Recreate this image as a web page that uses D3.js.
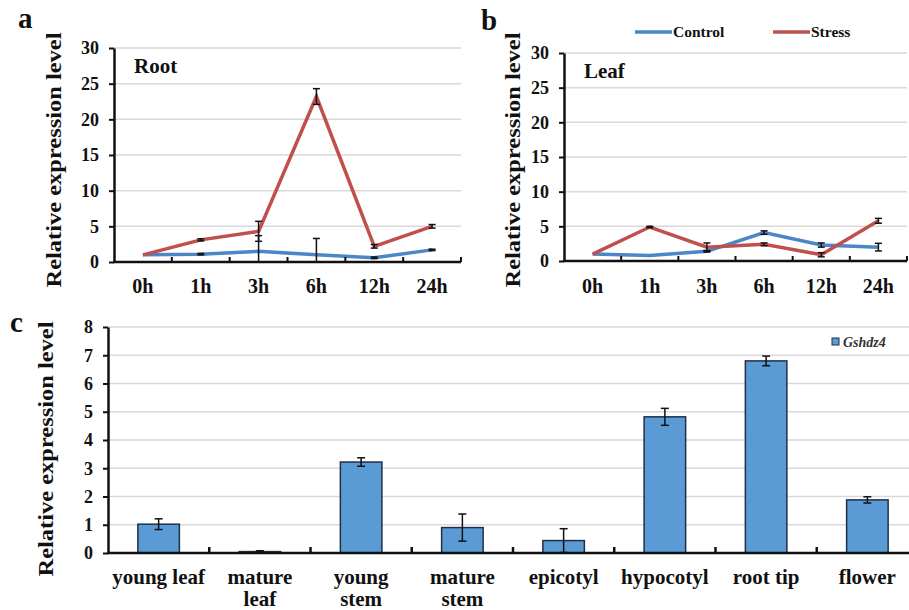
<!DOCTYPE html>
<html>
<head>
<meta charset="utf-8">
<script src="https://cdn.jsdelivr.net/npm/d3@7"></script>
<style>
  body { margin: 0; background: #fff; }
  svg { display: block; }
</style>
</head>
<body>
<svg id="fig" width="909" height="610"></svg>
<script>
// time course data (panels a and b)
var timeLabels = ["0h", "1h", "3h", "6h", "12h", "24h"];
var rootControl = [1.0, 1.1, 1.5, 1.0, 0.6, 1.7];
var rootControlErr = [0, 0.1, 2.2, 2.3, 0.1, 0.1];
var rootStress = [1.0, 3.1, 4.3, 23.2, 2.2, 5.0];
var rootStressErr = [0, 0.15, 1.4, 1.1, 0.25, 0.25];
var leafControl = [1.0, 0.8, 1.4, 4.1, 2.3, 2.0];
var leafControlErr = [0, 0, 0.1, 0.25, 0.3, 0.55];
var leafStress = [1.0, 4.9, 2.0, 2.4, 0.9, 5.8];
var leafStressErr = [0, 0.1, 0.6, 0.2, 0.3, 0.35];
var timeTicks = [0, 5, 10, 15, 20, 25, 30];

// tissue data (panel c)
var tissues = [["young leaf"], ["mature", "leaf"], ["young", "stem"], ["mature", "stem"],
  ["epicotyl"], ["hypocotyl"], ["root tip"], ["flower"]];
var gshdz4 = [1.02, 0.05, 3.22, 0.9, 0.44, 4.82, 6.8, 1.88];
var gshdz4Err = [0.19, 0.03, 0.15, 0.48, 0.42, 0.3, 0.17, 0.11];
var tissueTicks = [0, 1, 2, 3, 4, 5, 6, 7, 8];

var blue = "#4a86c8", red = "#c0504d", grid = "#d9d9d9";
var serif = "Liberation Serif";
var svg = d3.select("#fig").attr("font-family", serif).attr("font-weight", "bold");

function txt(parent) {
  return parent.append("text").attr("font-family", serif).attr("font-weight", "bold").attr("fill", "#111");
}

function yTitle(cx, cy) {
  txt(svg)
    .attr("transform", "translate(" + cx + "," + cy + ") rotate(-90)")
    .attr("text-anchor", "middle")
    .attr("dy", "0.35em")
    .attr("textLength", 255)
    .attr("lengthAdjust", "spacingAndGlyphs")
    .attr("font-size", 22)
    .text("Relative expression level");
}

function errBars(g, x, y, vals, errs, cap) {
  vals.forEach(function (v, i) {
    if (!errs[i]) return;
    var lo = Math.max(0, v - errs[i]), hi = v + errs[i];
    var cx = x(i);
    g.append("line").attr("x1", cx).attr("x2", cx).attr("y1", y(lo)).attr("y2", y(hi))
      .attr("stroke", "#111").attr("stroke-width", 1.5);
    g.append("line").attr("x1", cx - cap).attr("x2", cx + cap).attr("y1", y(hi)).attr("y2", y(hi))
      .attr("stroke", "#111").attr("stroke-width", 1.5);
    if (v - errs[i] > 0) {
      g.append("line").attr("x1", cx - cap).attr("x2", cx + cap).attr("y1", y(lo)).attr("y2", y(lo))
        .attr("stroke", "#111").attr("stroke-width", 1.5);
    }
  });
}

function styleYAxis(ay) {
  ay.attr("font-family", serif).attr("font-weight", "bold");
  ay.select(".domain").attr("stroke", "#111").attr("stroke-width", 2.5);
  ay.selectAll(".tick line").attr("stroke", "#111").attr("stroke-width", 2);
  ay.selectAll(".tick text").attr("font-size", 18).attr("fill", "#111");
}

function linePanel(opt) {
  var band = d3.scaleBand().domain(d3.range(timeLabels.length)).range([opt.x0, opt.x1]);
  var x = function (i) { return band(i) + band.bandwidth() / 2; };
  var y = d3.scaleLinear().domain([0, 30]).range([opt.y0, opt.y1]);
  var g = svg.append("g");

  g.selectAll(".grid").data(timeTicks.slice(1)).enter().append("line")
    .attr("x1", opt.x0).attr("x2", opt.x1)
    .attr("y1", function (d) { return y(d); }).attr("y2", function (d) { return y(d); })
    .attr("stroke", grid).attr("stroke-width", 1.5);

  var line = d3.line().x(function (d, i) { return x(i); }).y(function (d) { return y(d); });
  g.append("path").datum(opt.control).attr("d", line)
    .attr("fill", "none").attr("stroke", blue).attr("stroke-width", 3.5);
  g.append("path").datum(opt.stress).attr("d", line)
    .attr("fill", "none").attr("stroke", red).attr("stroke-width", 3.5);
  errBars(g, x, y, opt.control, opt.controlErr, 3.5);
  errBars(g, x, y, opt.stress, opt.stressErr, 3.5);

  var yAxis = d3.axisLeft(y).tickValues(timeTicks).tickSizeInner(5).tickSizeOuter(0).tickPadding(10);
  styleYAxis(g.append("g").attr("transform", "translate(" + opt.x0 + ",0)").call(yAxis));

  g.append("line").attr("x1", opt.x0 - 1).attr("x2", opt.x1).attr("y1", opt.y0).attr("y2", opt.y0)
    .attr("stroke", "#111").attr("stroke-width", 2.5);
  g.selectAll(".xt").data(d3.range(1, timeLabels.length + 1)).enter().append("line")
    .attr("x1", function (i) { return band(i - 1) + band.bandwidth(); })
    .attr("x2", function (i) { return band(i - 1) + band.bandwidth(); })
    .attr("y1", opt.y0).attr("y2", opt.y0 - 5)
    .attr("stroke", "#111").attr("stroke-width", 2);
  timeLabels.forEach(function (d, i) {
    txt(g).attr("x", x(i)).attr("y", 293).attr("text-anchor", "middle").attr("font-size", 20).text(d);
  });

  txt(g).attr("x", opt.x0 + 20).attr("y", opt.y1 + 25).attr("font-size", 21).text(opt.title);
  txt(svg).attr("x", opt.letterX).attr("y", opt.letterY).attr("font-size", 29).text(opt.letter);
  yTitle(opt.titleX, 160);
}

linePanel({ x0: 114, x1: 461, y0: 262, y1: 48, control: rootControl, controlErr: rootControlErr,
  stress: rootStress, stressErr: rootStressErr, title: "Root", letter: "a", letterX: 18, letterY: 28, titleX: 53 });
linePanel({ x0: 564, x1: 907, y0: 261, y1: 53, control: leafControl, controlErr: leafControlErr,
  stress: leafStress, stressErr: leafStressErr, title: "Leaf", letter: "b", letterX: 481, letterY: 30, titleX: 512 });

// legend for line panels
var legend = [["Control", blue, 635], ["Stress", red, 773]];
legend.forEach(function (d) {
  svg.append("line").attr("x1", d[2]).attr("x2", d[2] + 37).attr("y1", 32).attr("y2", 32)
    .attr("stroke", d[1]).attr("stroke-width", 3.5);
  txt(svg).attr("x", d[2] + 38).attr("y", 37).attr("font-size", 15.5).text(d[0]);
});

// panel c: bar chart
(function () {
  var x0 = 108, x1 = 918, y0 = 553, y1 = 327;
  var band = d3.scaleBand().domain(d3.range(tissues.length)).range([x0, x1]);
  var cx = function (i) { return band(i) + band.bandwidth() / 2; };
  var bw = band.bandwidth() * 0.41;
  var y = d3.scaleLinear().domain([0, 8]).range([y0, y1]);
  var g = svg.append("g");

  g.selectAll(".grid").data(tissueTicks.slice(1)).enter().append("line")
    .attr("x1", x0).attr("x2", x1)
    .attr("y1", function (d) { return y(d); }).attr("y2", function (d) { return y(d); })
    .attr("stroke", grid).attr("stroke-width", 1.5);

  g.selectAll(".bar").data(gshdz4).enter().append("rect")
    .attr("x", function (d, i) { return cx(i) - bw / 2; })
    .attr("y", function (d) { return y(d); })
    .attr("width", bw)
    .attr("height", function (d) { return y0 - y(d); })
    .attr("fill", "#5b9bd5").attr("stroke", "#1f2f45").attr("stroke-width", 1.5);
  errBars(g, cx, y, gshdz4, gshdz4Err, 4);

  var yAxis = d3.axisLeft(y).tickValues(tissueTicks).tickSizeInner(5).tickSizeOuter(0).tickPadding(10);
  styleYAxis(g.append("g").attr("transform", "translate(" + x0 + ",0)").call(yAxis));

  g.append("line").attr("x1", x0 - 1).attr("x2", x1).attr("y1", y0).attr("y2", y0)
    .attr("stroke", "#111").attr("stroke-width", 2.5);
  g.selectAll(".xt").data(d3.range(1, tissues.length)).enter().append("line")
    .attr("x1", function (i) { return band(i); }).attr("x2", function (i) { return band(i); })
    .attr("y1", y0).attr("y2", y0 - 6)
    .attr("stroke", "#111").attr("stroke-width", 2.5);

  tissues.forEach(function (lines, i) {
    var t = txt(g).attr("text-anchor", "middle").attr("font-size", 21);
    lines.forEach(function (s, j) {
      t.append("tspan").attr("x", cx(i)).attr("y", 584 + j * 22).text(s);
    });
  });

  g.append("rect").attr("x", 832).attr("y", 338).attr("width", 7).attr("height", 7)
    .attr("fill", "#5b9bd5").attr("stroke", "#1f2f45").attr("stroke-width", 1);
  txt(g).attr("x", 843).attr("y", 347).attr("font-size", 14).attr("font-style", "italic")
    .attr("fill", "#333").text("Gshdz4");

  txt(svg).attr("x", 10).attr("y", 332).attr("font-size", 29).text("c");
  yTitle(45, 449);
})();
</script>
</body>
</html>
